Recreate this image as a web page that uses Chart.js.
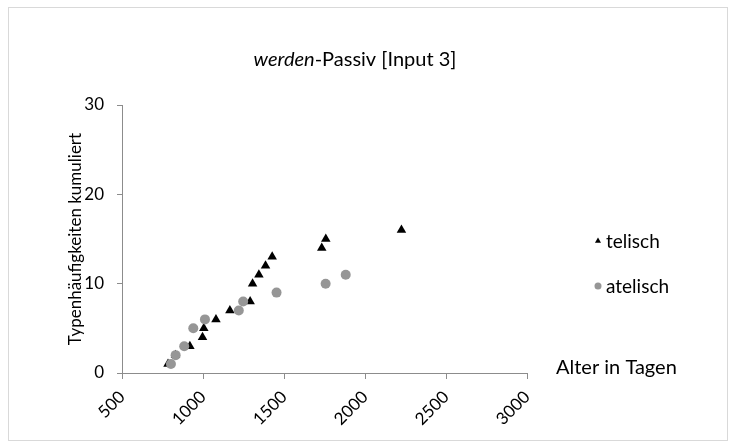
<!DOCTYPE html>
<html>
<head>
<meta charset="utf-8">
<script src="https://cdn.jsdelivr.net/npm/chart.js@4"></script>
<style>
  body { margin: 0; background: #fff; }
  #wrap { position: relative; width: 733px; height: 448px; }
  #frame { position: absolute; left: 8px; top: 7px; width: 718px; height: 432px; border: 1px solid #d9d9d9; pointer-events: none; }
</style>
</head>
<body>
<div id="wrap">
  <canvas id="c" width="733" height="448"></canvas>
  <div id="frame"></div>
</div>
<script>
const FONT = "Lato, 'Open Sans', sans-serif";

const telisch_x = [784, 830, 919, 997, 1005, 1080, 1166, 1291, 1306, 1345, 1386, 1427, 1733, 1758, 2225];
const telisch_y = [1, 2, 3, 4, 5, 6, 7, 8, 10, 11, 12, 13, 14, 15, 16];
const atelisch_x = [802, 831, 884, 940, 1012, 1221, 1248, 1454, 1757, 1881];
const atelisch_y = [1, 2, 3, 5, 6, 7, 8, 9, 10, 11];

const series_names = ["telisch", "atelisch"];
const series_colors = ["#000000", "#969696"];
const x_ticks = [500, 1000, 1500, 2000, 2500, 3000];
const y_ticks = [0, 10, 20, 30];

const toPoints = (xs, ys) => xs.map((x, i) => ({ x: x, y: ys[i] }));

// title with italic "werden", legend and the x axis label right of the axis end
const extras = {
  id: "extras",
  afterDraw(chart) {
    const ctx = chart.ctx;
    const x = chart.scales.x;
    ctx.save();
    ctx.fillStyle = "#000";
    ctx.textBaseline = "alphabetic";

    // title
    const a = "werden";
    const b = "-Passiv [Input 3]";
    ctx.font = "italic 20px " + FONT;
    const wa = ctx.measureText(a).width;
    ctx.font = "20px " + FONT;
    const wb = ctx.measureText(b).width;
    const tx = 355 - (wa + wb) / 2;
    ctx.textAlign = "left";
    ctx.font = "italic 20px " + FONT;
    ctx.fillText(a, tx, 66);
    ctx.font = "20px " + FONT;
    ctx.fillText(b, tx + wa, 66);

    // x axis title
    ctx.font = "20px " + FONT;
    ctx.textBaseline = "middle";
    ctx.fillText("Alter in Tagen", x.right + 29, 368);

    // legend
    const rows = [241, 286];
    ctx.font = "19px " + FONT;
    chart.data.datasets.forEach((ds, i) => {
      ctx.fillStyle = ds.backgroundColor;
      Chart.helpers.drawPoint(ctx, {
        pointStyle: ds.pointStyle,
        radius: 3.5,
        borderWidth: 0
      }, 598, rows[i]);
      ctx.fillStyle = "#000";
      ctx.fillText(ds.label, 606, rows[i] + 1);
    });
    ctx.restore();
  }
};

new Chart(document.getElementById("c"), {
  type: "scatter",
  data: {
    datasets: [
      {
        label: series_names[0],
        data: toPoints(telisch_x, telisch_y),
        pointStyle: "triangle",
        pointRadius: 5.5,
        backgroundColor: series_colors[0],
        borderColor: series_colors[0],
        borderWidth: 0,
        order: 1
      },
      {
        label: series_names[1],
        data: toPoints(atelisch_x, atelisch_y),
        pointStyle: "circle",
        pointRadius: 5,
        backgroundColor: series_colors[1],
        borderColor: series_colors[1],
        borderWidth: 0,
        order: 0
      }
    ]
  },
  options: {
    responsive: false,
    animation: false,
    layout: { padding: { left: 0, top: 105, right: 206, bottom: 0 } },
    plugins: {
      legend: { display: false },
      title: { display: false },
      tooltip: { enabled: false }
    },
    scales: {
      x: {
        type: "linear",
        min: 500,
        max: 3000,
        afterFit: (s) => { s.height = 75; },
        afterBuildTicks: (s) => { s.ticks = x_ticks.map((v) => ({ value: v })); },
        grid: { drawOnChartArea: false, color: "#8c8c8c", tickLength: 6 },
        border: { color: "#8c8c8c" },
        ticks: {
          minRotation: 45,
          maxRotation: 45,
          padding: 8,
          color: "#000",
          font: { family: FONT, size: 17 },
          callback: (v) => String(v)
        }
      },
      y: {
        min: 0,
        max: 30,
        afterFit: (s) => { s.width = 122; },
        afterBuildTicks: (s) => { s.ticks = y_ticks.map((v) => ({ value: v })); },
        grid: { drawOnChartArea: false, color: "#8c8c8c", tickLength: 5 },
        border: { color: "#8c8c8c" },
        ticks: {
          padding: 13,
          color: "#000",
          font: { family: FONT, size: 17 }
        },
        title: {
          display: true,
          text: "Typenhäufigkeiten kumuliert",
          color: "#000",
          font: { family: FONT, size: 17 },
          padding: { top: 65, bottom: 0 }
        }
      }
    }
  },
  plugins: [extras]
});
</script>
</body>
</html>
